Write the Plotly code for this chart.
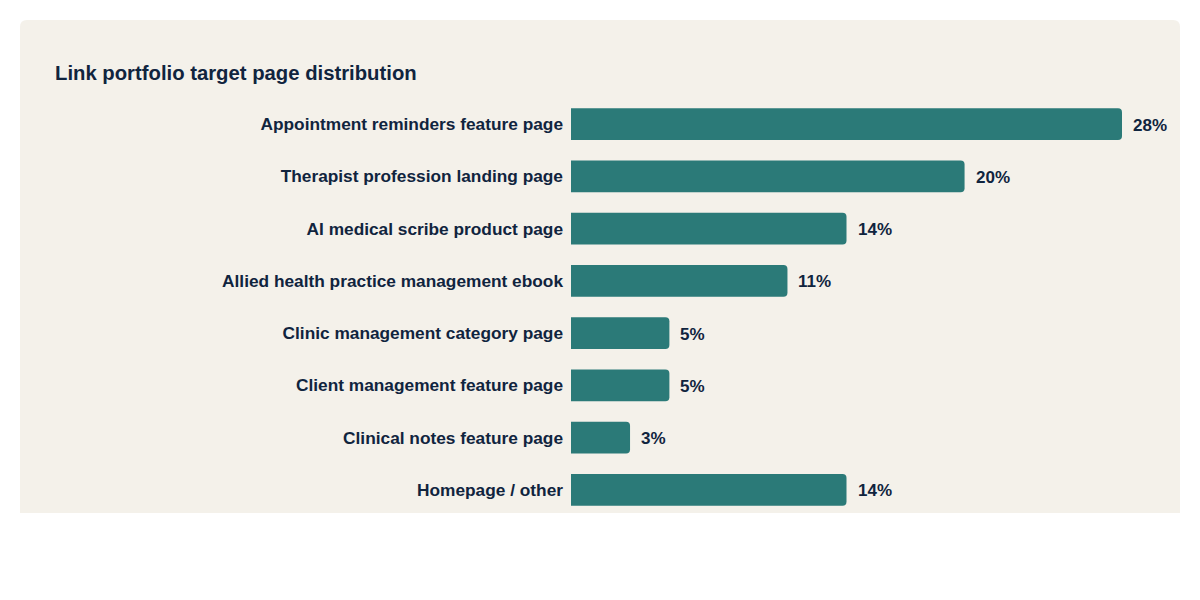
import plotly.graph_objects as go

categories = [
    "Appointment reminders feature page",
    "Therapist profession landing page",
    "AI medical scribe product page",
    "Allied health practice management ebook",
    "Clinic management category page",
    "Client management feature page",
    "Clinical notes feature page",
    "Homepage / other",
]
values = [28, 20, 14, 11, 5, 5, 3, 14]
value_labels = ["28%", "20%", "14%", "11%", "5%", "5%", "3%", "14%"]

BAR = "#2B7A78"
TEXT = "#10243E"
CARD = "#F4F1EA"
FONT = "Liberation Sans, Arial, Helvetica, sans-serif"

W, H = 1200, 600
OFF = 8  # page body offset
L, R, T, B = 571 - OFF, 1122 - OFF, 98 - OFF, 516 - OFF

def px_x(p):
    return (p - OFF - L) / (R - L)

def px_y(p):
    return (B - (p - OFF)) / (B - T)

fig = go.Figure()
fig.add_trace(go.Bar(
    x=values, y=categories, orientation="h",
    marker=dict(color=BAR, line=dict(width=0), cornerradius=4),
    width=0.612, hoverinfo="skip",
))

for c, v, t in zip(categories, values, value_labels):
    fig.add_annotation(x=v, y=c, xref="x", yref="y", text=f"<b>{t}</b>",
                       showarrow=False, xanchor="left", yanchor="middle",
                       xshift=9, yshift=-1, font=dict(size=17, color=TEXT, family=FONT))

# card with rounded top corners
x0, x1 = px_x(20), px_x(1180)
y0, y1 = px_y(513), px_y(20)
rx = 7 / (R - L)
ry = 7 / (B - T)
path = (f"M {x0},{y0} L {x0},{y1-ry} Q {x0},{y1} {x0+rx},{y1} "
        f"L {x1-rx},{y1} Q {x1},{y1} {x1},{y1-ry} L {x1},{y0} Z")
fig.add_shape(type="path", path=path, xref="paper", yref="paper",
              fillcolor=CARD, line=dict(width=0), layer="below")

fig.update_layout(
    width=W, height=H,
    margin=dict(l=L, r=W - R, t=T, b=H - B, pad=0),
    paper_bgcolor="white", plot_bgcolor="rgba(0,0,0,0)",
    showlegend=False,
    font=dict(family=FONT, color=TEXT),
    title=dict(text="<b>Link portfolio target page distribution</b>",
               x=(55 - OFF) / W, xanchor="left", xref="container",
               y=1 - (73 - OFF) / H, yanchor="middle", yref="container",
               font=dict(size=20.3, color=TEXT)),
    xaxis=dict(range=[0, 28], visible=False, fixedrange=True),
    yaxis=dict(categoryorder="array", categoryarray=categories[::-1],
               range=[-0.5, len(categories) - 0.5],
               showgrid=False, zeroline=False, showline=False, ticks="",
               ticklabelstandoff=7,
               tickfont=dict(size=17.3, color=TEXT, family=FONT, weight="bold")),
)

fig.write_html("out.html")
